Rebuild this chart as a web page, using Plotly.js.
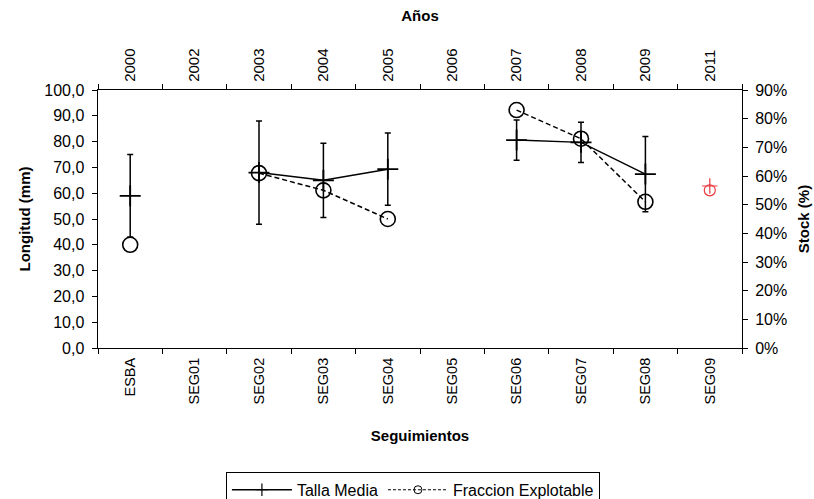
<!DOCTYPE html>
<html>
<head>
<meta charset="utf-8">
<script src="https://cdn.plot.ly/plotly-3.0.1.min.js"></script>
<style>
  html, body { margin: 0; padding: 0; background: #ffffff; }
  #chart { width: 814px; height: 499px; }
</style>
</head>
<body>
<div id="chart"></div>
<script>
// ---- Data ----
const categories = ['ESBA', 'SEG01', 'SEG02', 'SEG03', 'SEG04', 'SEG05', 'SEG06', 'SEG07', 'SEG08', 'SEG09'];
const years = ['2000', '2002', '2003', '2004', '2005', '2006', '2007', '2008', '2009', '2011'];
const tallaMedia = [59, null, 68, 65, 69.3, null, 80.6, 79.7, 67.4, null];
const tallaError = [16, null, 20, 14.4, 14, null, 7.8, 7.8, 14.6, null];
const fraccionExplotable = [0.36, null, 0.61, 0.55, 0.45, null, 0.83, 0.73, 0.51, null];
const seg09Category = ['SEG09'];
const seg09Talla = [62.8];
const seg09Fraccion = [0.55];

const FONT = 'Liberation Sans, Arial, sans-serif';
const RED = '#e8383d';

const traces = [
  {
    name: 'Talla Media', x: categories, y: tallaMedia, type: 'scatter', mode: 'lines+markers',
    xaxis: 'x', yaxis: 'y', connectgaps: false, showlegend: false, hoverinfo: 'x+y',
    line: { color: '#000000', width: 1.5 },
    marker: { symbol: 'cross-thin', size: 15, color: '#000000', line: { color: '#000000', width: 1.8 } },
    error_y: { type: 'data', array: tallaError, visible: true, color: '#000000', thickness: 1.5, width: 3 }
  },
  {
    name: 'Fraccion Explotable', x: categories, y: fraccionExplotable, type: 'scatter', mode: 'lines+markers',
    xaxis: 'x', yaxis: 'y2', connectgaps: false, showlegend: false,
    line: { color: '#000000', width: 1.5, dash: '5px,3px' },
    marker: { symbol: 'circle-open', size: 15, color: '#000000', line: { color: '#000000', width: 1.6 } }
  },
  {
    name: 'Talla Media SEG09', x: seg09Category, y: seg09Talla, type: 'scatter', mode: 'markers',
    xaxis: 'x', yaxis: 'y', showlegend: false,
    marker: { symbol: 'cross-thin', size: 11, color: RED, line: { color: RED, width: 1.2 } }
  },
  {
    name: 'Fraccion SEG09', x: seg09Category, y: seg09Fraccion, type: 'scatter', mode: 'markers',
    xaxis: 'x', yaxis: 'y2', showlegend: false,
    marker: { symbol: 'circle-open', size: 11, color: RED, line: { color: RED, width: 1.2 } }
  },
  // top "Años" axis carrier
  {
    x: years, y: years.map(() => null), type: 'scatter', mode: 'markers',
    xaxis: 'x2', yaxis: 'y', showlegend: false, hoverinfo: 'skip'
  },
  // legend entries
  {
    name: 'Talla Media', x: [categories[0]], y: [null], type: 'scatter', mode: 'lines+markers',
    xaxis: 'x', yaxis: 'y', showlegend: true, hoverinfo: 'skip',
    line: { color: '#000000', width: 1.5 },
    marker: { symbol: 'cross-thin', size: 9, color: '#000000', line: { color: '#000000', width: 1.2 } }
  },
  {
    name: 'Fraccion Explotable', x: [categories[0]], y: [null], type: 'scatter', mode: 'lines+markers',
    xaxis: 'x', yaxis: 'y2', showlegend: true, hoverinfo: 'skip',
    line: { color: '#000000', width: 1.2, dash: '3px,2px' },
    marker: { symbol: 'circle-open', size: 8, color: '#000000', line: { color: '#000000', width: 1 } }
  }
];

const tickFont = { family: FONT, size: 16, color: '#000000' };
const tickFontTop = { family: FONT, size: 15, color: '#000000' };
const tickFontRot = { family: FONT, size: 14.5, color: '#000000' };
const titleFont = { family: FONT, size: 15, color: '#000000', weight: 'bold' };

const layout = {
  width: 814, height: 499,
  margin: { l: 98, r: 72, t: 90, b: 151, autoexpand: false },
  paper_bgcolor: '#ffffff', plot_bgcolor: '#ffffff',
  separators: ',.',
  font: { family: FONT, size: 14, color: '#000000' },
  showlegend: true,
  legend: {
    orientation: 'h', x: 0.489, xanchor: 'center', y: -0.48, yanchor: 'top',
    bordercolor: '#000000', borderwidth: 1, bgcolor: '#ffffff',
    font: { family: FONT, size: 16, color: '#000000' }, itemwidth: 60, traceorder: 'normal'
  },
  xaxis: {
    type: 'category', categoryorder: 'array', categoryarray: categories, range: [-0.5, 9.5],
    showline: true, linecolor: '#000000', linewidth: 1, mirror: false,
    ticks: 'outside', tickson: 'boundaries', ticklen: 5, tickcolor: '#000000', tickwidth: 1,
    tickangle: -90, tickfont: tickFontRot, ticklabelstandoff: 3, showgrid: false, zeroline: false,
    title: { text: 'Seguimientos', font: titleFont, standoff: 26 },
    anchor: 'y', automargin: false, fixedrange: true
  },
  xaxis2: {
    type: 'category', categoryorder: 'array', categoryarray: years, range: [-0.5, 9.5],
    overlaying: 'x', side: 'top', anchor: 'y',
    showline: true, linecolor: '#000000', linewidth: 1,
    ticks: 'outside', tickson: 'boundaries', ticklen: 5, tickcolor: '#000000', tickwidth: 1,
    tickangle: -90, tickfont: tickFontTop, tickprefix: '\u00a0', showgrid: false, zeroline: false,
    title: { text: 'Años', font: titleFont, standoff: 23 }, automargin: false
  },
  yaxis: {
    range: [0, 100], dtick: 10, tick0: 0, tickformat: '.1f', ticksuffix: '\u00a0',
    showline: true, linecolor: '#000000', linewidth: 1,
    ticks: 'outside', ticklen: 5, tickcolor: '#000000', tickwidth: 1,
    tickfont: tickFont, showgrid: false, zeroline: false,
    title: { text: 'Longitud (mm)', font: titleFont, standoff: 10 },
    automargin: false, fixedrange: true
  },
  yaxis2: {
    range: [0, 0.9], dtick: 0.1, tick0: 0, tickformat: '.0%',
    overlaying: 'y', side: 'right', anchor: 'x',
    showline: true, linecolor: '#000000', linewidth: 1,
    ticks: 'outside', ticklen: 5, tickcolor: '#000000', tickwidth: 1,
    tickfont: tickFont, ticklabelstandoff: 4, showgrid: false, zeroline: false,
    title: { text: 'Stock (%)', font: titleFont, standoff: 12 },
    automargin: false, fixedrange: true
  },
  yaxis3: {
    range: [0, 0.9], dtick: 0.1, tick0: 0,
    overlaying: 'y', side: 'right', anchor: 'x',
    showline: false, ticks: 'inside', ticklen: 5, tickcolor: '#000000', tickwidth: 1,
    showticklabels: false, showgrid: false, zeroline: false, automargin: false, fixedrange: true
  }
};

Plotly.newPlot('chart', traces, layout, { displayModeBar: false, staticPlot: true });
</script>
</body>
</html>
